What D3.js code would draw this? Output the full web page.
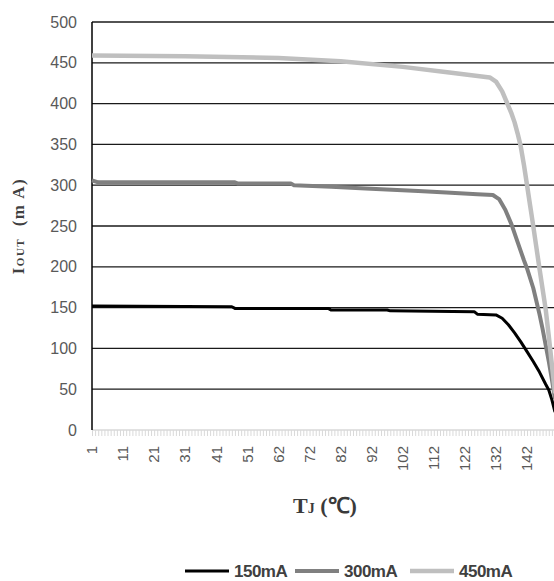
<!DOCTYPE html>
<html>
<head>
<meta charset="utf-8">
<script src="https://cdn.jsdelivr.net/npm/d3@7"></script>
<style>
  html, body { margin: 0; padding: 0; background: #fff; }
  svg { display: block; }
</style>
</head>
<body>
<svg id="chart" width="554" height="581"></svg>
<script>
// categories on the x axis (Tj, one value is missing between 51 and 62)
const categories = [
  1, 2, 3, 4, 5, 6, 7, 8, 9, 10, 11, 12, 13, 14, 15, 16, 17, 18, 19, 20,
  21, 22, 23, 24, 25, 26, 27, 28, 29, 30, 31, 32, 33, 34, 35, 36, 37, 38, 39, 40,
  41, 42, 43, 44, 45, 46, 47, 48, 49, 50, 51, 52, 53, 54, 55, 57, 58, 59, 60, 61,
  62, 63, 64, 65, 66, 67, 68, 69, 70, 71, 72, 73, 74, 75, 76, 77, 78, 79, 80, 81,
  82, 83, 84, 85, 86, 87, 88, 89, 90, 91, 92, 93, 94, 95, 96, 97, 98, 99, 100, 101,
  102, 103, 104, 105, 106, 107, 108, 109, 110, 111, 112, 113, 114, 115, 116, 117, 118, 119, 120, 121,
  122, 123, 124, 125, 126, 127, 128, 129, 130, 131, 132, 133, 134, 135, 136, 137, 138, 139, 140, 141,
  142, 143, 144, 145, 146, 147, 148, 149, 150, 151
];
const xTickLabels = [1, 11, 21, 31, 41, 51, 62, 72, 82, 92, 102, 112, 122, 132, 142];
const yTicks = [0, 50, 100, 150, 200, 250, 300, 350, 400, 450, 500];

// series: Tj values and the matching Iout (mA)
const tj150 = [1, 46, 47, 78, 79, 97, 98, 125, 126, 132, 134, 136, 138, 140, 142, 144, 146, 148, 149, 150, 151];
const iout150 = [152, 151, 149, 149, 147, 147, 146, 145, 142, 141, 137, 129, 119, 108, 96, 84, 71, 56, 49, 37, 22];

const tj300 = [1, 3, 47, 48, 66, 67, 79, 90, 107, 116, 126, 131, 133, 135, 137, 139, 141, 142, 144, 145, 146, 147, 148, 149, 150, 151];
const iout300 = [306, 303.5, 303.5, 302, 302, 300, 298, 296, 293, 291, 289, 288, 283, 270, 252, 230, 208, 198, 174, 158, 142, 124, 104, 84, 62, 38];

const tj450 = [1, 31, 62, 82, 102, 117, 130, 132, 134, 136, 137, 138, 139, 140, 141, 142, 143, 144, 145, 146, 147, 148, 149, 150, 151];
const iout450 = [459, 458, 456, 452, 445, 438, 432, 427, 415, 397, 388, 377, 363, 347, 325, 300, 275, 250, 224, 198, 173, 148, 115, 80, 45];

const seriesNames = ['150mA', '300mA', '450mA'];
const seriesColors = ['#000000', '#808080', '#bfbfbf'];
const seriesWidths = [3, 4, 4.5];

const series = [
  d3.zip(tj150, iout150),
  d3.zip(tj300, iout300),
  d3.zip(tj450, iout450)
];

const svg = d3.select('#chart');

const x = d3.scalePoint()
  .domain(categories)
  .range([92, 555]);

const y = d3.scaleLinear()
  .domain([0, 500])
  .range([430, 22]);

// horizontal gridlines
svg.append('g')
  .selectAll('line')
  .data(yTicks.filter(d => d > 0))
  .enter().append('line')
  .attr('x1', 92)
  .attr('x2', 562)
  .attr('y1', d => y(d))
  .attr('y2', d => y(d))
  .style('stroke', '#1a1a1a')
  .style('stroke-width', 1.3);

// x axis: light grey line with a tick at every category
const xAxis = svg.append('g')
  .attr('transform', `translate(0,${y(0)})`)
  .call(d3.axisBottom(x).tickSize(6).tickFormat(''));
xAxis.select('.domain')
  .attr('d', `M92,0H562`)
  .style('stroke', '#d9d9d9')
  .style('stroke-width', 1.5);
xAxis.selectAll('.tick line')
  .style('stroke', '#d9d9d9');

// rotated tick labels every ten categories
svg.append('g')
  .selectAll('text')
  .data(xTickLabels)
  .enter().append('text')
  .attr('transform', d => `translate(${x(d)},446) rotate(-90)`)
  .attr('dy', '0.35em')
  .style('text-anchor', 'end')
  .style('font-family', 'Liberation Sans, Arial, sans-serif')
  .style('font-size', '15px')
  .style('fill', '#595959')
  .text(d => d);

// y axis
svg.append('line')
  .attr('x1', 92)
  .attr('x2', 92)
  .attr('y1', y(500))
  .attr('y2', y(0))
  .style('stroke', '#000')
  .style('stroke-width', 1.5);

svg.append('g')
  .selectAll('text')
  .data(yTicks)
  .enter().append('text')
  .attr('x', 77)
  .attr('y', d => y(d))
  .attr('dy', '0.35em')
  .style('text-anchor', 'end')
  .style('font-family', 'Liberation Sans, Arial, sans-serif')
  .style('font-size', '16px')
  .style('fill', '#595959')
  .text(d => d);

// curves
const line = d3.line()
  .x(d => x(d[0]))
  .y(d => y(d[1]));

svg.append('g')
  .selectAll('path')
  .data(series)
  .enter().append('path')
  .attr('d', line)
  .style('fill', 'none')
  .style('stroke', (d, i) => seriesColors[i])
  .style('stroke-width', (d, i) => seriesWidths[i])
  .style('stroke-linejoin', 'round');

// axis titles
const yTitle = svg.append('text')
  .attr('transform', `translate(24,226) rotate(-90)`)
  .style('text-anchor', 'middle')
  .style('font-family', 'Liberation Serif, Times New Roman, serif')
  .style('font-weight', 'bold')
  .style('font-size', '17px')
  .style('letter-spacing', '1.5px')
  .style('fill', '#404040');
yTitle.append('tspan').text('I');
yTitle.append('tspan').style('font-size', '11px').text('OUT');
yTitle.append('tspan').attr('xml:space', 'preserve').text('\u00a0 (m A)');

const xTitle = svg.append('text')
  .attr('x', 325)
  .attr('y', 513)
  .style('text-anchor', 'middle')
  .style('font-family', 'Liberation Serif, Times New Roman, serif')
  .style('font-weight', 'bold')
  .style('font-size', '22px')
  .style('fill', '#3a3a3a');
xTitle.append('tspan').text('T');
xTitle.append('tspan').style('font-size', '14px').text('J');
xTitle.append('tspan').text(' (℃)');

// legend
const legendX = [185, 295, 410];
const legend = svg.append('g')
  .attr('transform', 'translate(0,571)');

const legendItems = legend.selectAll('.legend-item')
  .data(seriesNames)
  .enter().append('g')
  .attr('class', 'legend-item')
  .attr('transform', (d, i) => `translate(${legendX[i]},0)`);

legendItems.append('line')
  .attr('x1', 0)
  .attr('x2', 44)
  .style('stroke', (d, i) => seriesColors[i])
  .style('stroke-width', (d, i) => seriesWidths[i]);

legendItems.append('text')
  .attr('x', 49)
  .attr('dy', '0.35em')
  .style('font-family', 'Liberation Sans, Arial, sans-serif')
  .style('font-weight', 'bold')
  .style('font-size', '17px')
  .style('letter-spacing', '-0.5px')
  .style('fill', '#404040')
  .text(d => d);
</script>
</body>
</html>
